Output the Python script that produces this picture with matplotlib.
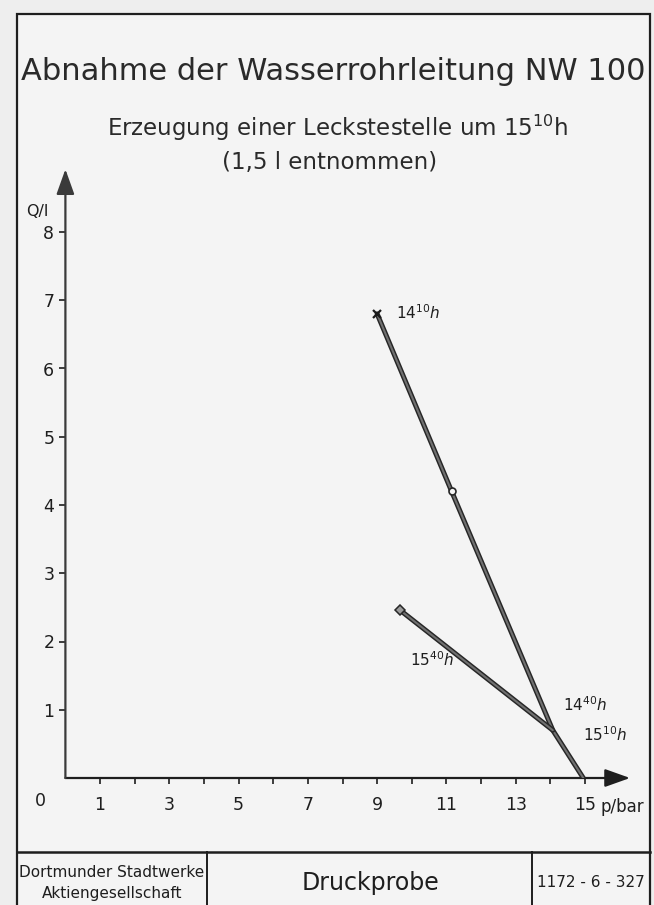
import matplotlib

matplotlib.use("Agg")
import matplotlib.pyplot as plt
import matplotlib.patheffects as pe
from matplotlib.patches import FancyArrowPatch, Rectangle

NARROW = ["Liberation Sans Narrow", "DejaVu Sans"]
INK = "#1e1e1e"
PAPER = "#eeeeee"

# Messwerte: Druck p (bar) gegen entnommene Menge Q (l)
p_1410 = [14.95, 14.07, 11.15, 9.0]   # 14:10 -> 14:40
q_1410 = [0.0, 0.70, 4.2, 6.8]
p_1510 = [14.07, 9.66]                 # 15:10 -> 15:40
q_1510 = [0.70, 2.46]

x_ticks = list(range(1, 16))
x_labels = [str(v) if v % 2 else "" for v in x_ticks]
y_ticks = list(range(1, 9))

W, H = 654, 905
fig = plt.figure(figsize=(W / 100, H / 100), dpi=100)
fig.patch.set_facecolor(PAPER)

# ---- Zeichenblatt: Rahmen, Schriftfeld, Überschriften (Pixelkoordinaten)
bg = fig.add_axes([0, 0, 1, 1])
bg.set_xlim(0, W)
bg.set_ylim(H, 0)
bg.axis("off")
bg.add_patch(Rectangle((17, 14), 633, 900, fc="#f4f4f4", ec=INK, lw=1.6))
bg.plot([17, 650], [852, 852], color=INK, lw=1.8)
bg.plot([207, 207], [852, 905], color=INK, lw=1.4)
bg.plot([532, 532], [852, 905], color=INK, lw=1.4)

bg.text(333, 72, "Abnahme der Wasserrohrleitung NW 100", ha="center", va="center",
        fontsize=22, color="#2a2a2a")
bg.text(338, 128, "Erzeugung einer Leckstestelle um 15$^{10}$h", ha="center", va="center",
        fontsize=16.5, color="#2a2a2a", family=NARROW)
bg.text(330, 163, "(1,5 l entnommen)", ha="center", va="center",
        fontsize=16.5, color="#2a2a2a", family=NARROW)

bg.text(112, 872, "Dortmunder Stadtwerke", ha="center", va="center", fontsize=11, color=INK, family=NARROW)
bg.text(112, 893, "Aktiengesellschaft", ha="center", va="center", fontsize=11, color=INK, family=NARROW)
bg.text(370, 883, "Druckprobe", ha="center", va="center", fontsize=17, color=INK)
bg.text(591, 882, "1172 - 6 - 327", ha="center", va="center", fontsize=11, color=INK, family=NARROW)

# ---- Diagramm
x0, y0 = 65.4, 778.0
ux, uy = 34.64, 68.25
xmax, ymax = 16.6, 9.0
ax = fig.add_axes([x0 / W, (H - y0) / H, xmax * ux / W, ymax * uy / H])
ax.set_xlim(0, xmax)
ax.set_ylim(0, ymax)
ax.patch.set_alpha(0)
for s in ax.spines.values():
    s.set_visible(False)

for end, col in [((16.3, 0), INK), ((0, 8.92), "#3a3a3a")]:
    ax.add_patch(FancyArrowPatch((0, 0), end, arrowstyle="-|>,head_length=0.7,head_width=0.25",
                                 mutation_scale=22, color=col, lw=1.6, shrinkA=0, shrinkB=0,
                                 zorder=3, clip_on=False))

ax.set_xticks(x_ticks)
ax.set_xticklabels(x_labels)
ax.set_yticks(y_ticks)
ax.tick_params(axis="both", direction="out", length=4, width=1.2, color=INK,
               labelsize=12.5, labelcolor=INK)
ax.tick_params(axis="x", pad=9)
ax.tick_params(axis="y", pad=4)
for lab in ax.get_xticklabels() + ax.get_yticklabels():
    lab.set_family(NARROW)

ax.text(-0.73, -0.33, "0", ha="center", va="center", fontsize=12.5, color=INK, family=NARROW)
ax.text(15.45, -0.42, "p/bar", ha="left", va="center", fontsize=12, color=INK, family=NARROW)
ax.text(-0.8, 8.3, "Q/l", ha="center", va="center", fontsize=11.5, color=INK, family=NARROW)

line_fx = [pe.withStroke(linewidth=3.6, foreground="#262626")]
ax.plot(p_1410, q_1410, color="#707070", lw=1.5, path_effects=line_fx, zorder=4,
        solid_capstyle="round")
ax.plot(p_1510, q_1510, color="#707070", lw=1.5, path_effects=line_fx, zorder=4,
        solid_capstyle="round")
ax.plot([p_1410[2]], [q_1410[2]], "o", ms=5, mfc="#f4f4f4", mec="#262626", mew=1.2, zorder=5)
ax.plot([p_1410[-1]], [q_1410[-1]], "x", ms=6, mec="#1a1a1a", mew=1.6, zorder=5)
ax.plot([p_1510[-1]], [q_1510[-1]], "D", ms=5, mfc="#9a9a9a", mec="#262626", mew=1.1, zorder=5)

tfs = 11
ax.text(9.55, 6.82, r"$\mathit{14^{10}h}$", ha="left", va="center", fontsize=tfs, color=INK)
ax.text(14.36, 1.07, r"$\mathit{14^{40}h}$", ha="left", va="center", fontsize=tfs, color=INK)
ax.text(14.94, 0.63, r"$\mathit{15^{10}h}$", ha="left", va="center", fontsize=tfs, color=INK)
ax.text(9.95, 1.73, r"$\mathit{15^{40}h}$", ha="left", va="center", fontsize=tfs, color=INK)

fig.savefig("out.png", dpi=100, facecolor=fig.get_facecolor())
plt.close(fig)
